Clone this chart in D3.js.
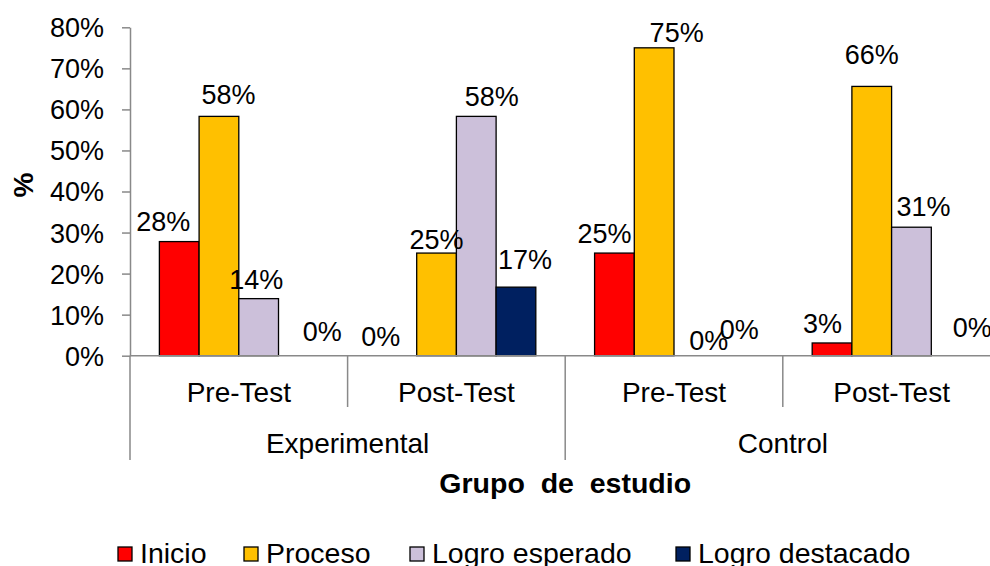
<!DOCTYPE html>
<html>
<head>
<meta charset="utf-8">
<script src="https://cdn.jsdelivr.net/npm/d3@7/dist/d3.min.js"></script>
<style>
  html, body { margin: 0; padding: 0; background: #fff; }
  svg { display: block; font-family: "Liberation Sans", Arial, sans-serif; }
</style>
</head>
<body>
<svg id="chart" width="990" height="566"></svg>
<script>
// ---- data ----
const groups = ["Experimental", "Control"];
const phases = ["Pre-Test", "Post-Test"];
const categories = ["Exp-Pre", "Exp-Post", "Ctrl-Pre", "Ctrl-Post"];
const categoryPhase = ["Pre-Test", "Post-Test", "Pre-Test", "Post-Test"];
const categoryGroup = ["Experimental", "Experimental", "Control", "Control"];
const series = ["Inicio", "Proceso", "Logro esperado", "Logro destacado"];
const inicio         = [0.278, 0.000, 0.250, 0.031];
const proceso        = [0.583, 0.250, 0.750, 0.656];
const logroEsperado  = [0.139, 0.583, 0.000, 0.313];
const logroDestacado = [0.000, 0.167, 0.000, 0.000];
const yTicks = [0, 0.1, 0.2, 0.3, 0.4, 0.5, 0.6, 0.7, 0.8];
const colors = ["#FF0000", "#FFC000", "#CCC0DA", "#002060"];
// label nudges (px) relative to bar centre / top, per series per category
const labelDx = [[-16, -16, -10, -9.5], [9.5, 0, 22.5, 0], [-2.5, 15.5, 15, 12], [24, 9, 5.7, 21]];
const labelGap = [[11, 10, 10, 10], [12, 4, 6, 22.7], [10, 10, 5.7, 11.7], [15, 18, 17, 19]];

const seriesValues = [inicio, proceso, logroEsperado, logroDestacado];

// ---- layout ----
const svg = d3.select("#chart");
const plotLeft = 130, plotRight = 1000.4, plotTop = 27.3, plotBase = 355.7;

const y = d3.scaleLinear().domain([0, 0.8]).range([plotBase, plotTop]);
const x0 = d3.scaleBand().domain(categories).range([plotLeft, plotRight]).padding(0);
const x1 = d3.scaleBand().domain(series).range([0, x0.bandwidth()]).paddingInner(0).paddingOuter(0.74);

const fmt = v => Math.round(v * 100) + "%";

// y axis
const yAxis = d3.axisLeft(y).tickValues(yTicks).tickFormat(d => Math.round(d * 100) + "%")
  .tickSizeInner(8).tickSizeOuter(0).tickPadding(18);
const gy = svg.append("g").attr("transform", `translate(${plotLeft},0)`).call(yAxis);
gy.select(".domain").attr("stroke", "#898989").attr("stroke-width", 1.5);
gy.selectAll(".tick line").attr("stroke", "#898989").attr("stroke-width", 1.5);
gy.selectAll(".tick text").attr("font-size", 27).attr("fill", "#000")
  .attr("font-family", "'Liberation Sans', Arial, sans-serif").attr("dy", "0.35em");

// bars
const barData = [];
series.forEach((s, si) => {
  categories.forEach((c, ci) => {
    barData.push({ s, si, c, ci, v: seriesValues[si][ci] });
  });
});

svg.append("g").selectAll("rect").data(barData.filter(d => d.v > 0)).join("rect")
  .attr("x", d => x0(d.c) + x1(d.s))
  .attr("y", d => y(d.v))
  .attr("width", x1.bandwidth())
  .attr("height", d => y(0) - y(d.v))
  .attr("fill", d => colors[d.si])
  .attr("stroke", "#000")
  .attr("stroke-width", 1.3);

// x axis line
svg.append("line").attr("x1", plotLeft).attr("x2", plotRight).attr("y1", plotBase).attr("y2", plotBase)
  .attr("stroke", "#898989").attr("stroke-width", 1.5);

// separators
categories.forEach((c, ci) => {
  const xx = x0(c);
  const isGroupStart = ci % 2 === 0;
  svg.append("line").attr("x1", xx).attr("x2", xx).attr("y1", plotBase)
    .attr("y2", isGroupStart ? 460 : 407)
    .attr("stroke", "#898989").attr("stroke-width", 1.5);
});
svg.append("line").attr("x1", plotRight).attr("x2", plotRight).attr("y1", plotBase).attr("y2", 460)
  .attr("stroke", "#898989").attr("stroke-width", 1.5);

// data labels
svg.append("g").selectAll("text").data(barData).join("text")
  .attr("x", d => x0(d.c) + x1(d.s) + x1.bandwidth() / 2 + labelDx[d.si][d.ci])
  .attr("y", d => y(d.v) - labelGap[d.si][d.ci])
  .attr("text-anchor", "middle")
  .attr("font-size", 27)
  .attr("fill", "#000")
  .text(d => fmt(d.v));

// phase labels
svg.append("g").selectAll("text").data(categories).join("text")
  .attr("x", (c) => x0(c) + x0.bandwidth() / 2)
  .attr("y", 401.7)
  .attr("text-anchor", "middle")
  .attr("font-size", 28)
  .text((c, i) => categoryPhase[i]);

// group labels
svg.append("g").selectAll("text").data(groups).join("text")
  .attr("x", g => {
    const cs = categories.filter((c, i) => categoryGroup[i] === g);
    return (x0(cs[0]) + x0(cs[cs.length - 1]) + x0.bandwidth()) / 2;
  })
  .attr("y", 452.7)
  .attr("text-anchor", "middle")
  .attr("font-size", 28)
  .text(g => g);

// axis titles
svg.append("text").attr("x", (plotLeft + plotRight) / 2).attr("y", 493)
  .attr("text-anchor", "middle").attr("font-size", 28.5).attr("font-weight", "bold")
  .style("white-space", "pre")
  .text("Grupo  de  estudio");

svg.append("text").attr("transform", "translate(33,185) rotate(-90)")
  .attr("text-anchor", "middle").attr("font-size", 28).attr("font-weight", "bold")
  .text("%");

// legend
const legendX = [118, 244, 410, 676];
const lg = svg.append("g").selectAll("g").data(series).join("g")
  .attr("transform", (d, i) => `translate(${legendX[i]},547)`);
lg.append("rect").attr("width", 14).attr("height", 14)
  .attr("fill", (d, i) => colors[i]).attr("stroke", "#000").attr("stroke-width", 1.3);
lg.append("text").attr("x", 22).attr("y", 15.5).attr("font-size", 28.5).text(d => d);
</script>
</body>
</html>
